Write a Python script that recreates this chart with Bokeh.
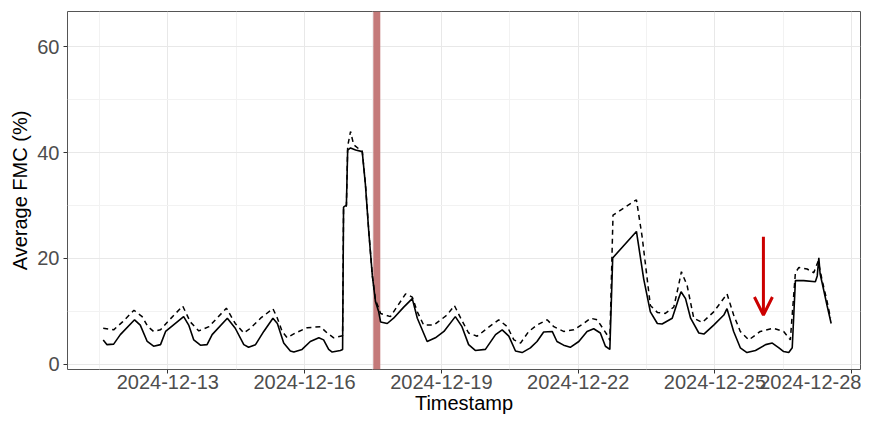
import pandas as pd
from bokeh.plotting import figure
from bokeh.models import (Range1d, FixedTicker, DatetimeTickFormatter, Span, Arrow,
                          OpenHead, ColumnDataSource)
from bokeh.embed import file_html
from bokeh.resources import INLINE

# ---------------- data ----------------
solid_time = [
    "2024-12-11 14:00", "2024-12-11 16:00", "2024-12-11 19:30", "2024-12-11 23:00", "2024-12-12 06:30",
    "2024-12-12 09:30", "2024-12-12 13:10", "2024-12-12 16:30", "2024-12-12 20:10", "2024-12-12 22:50",
    "2024-12-13 08:20", "2024-12-13 11:00", "2024-12-13 13:40", "2024-12-13 17:10", "2024-12-13 20:40",
    "2024-12-13 23:20", "2024-12-14 07:20", "2024-12-14 11:30", "2024-12-14 16:00", "2024-12-14 18:30",
    "2024-12-14 22:10", "2024-12-15 02:30", "2024-12-15 07:20", "2024-12-15 09:40", "2024-12-15 13:00",
    "2024-12-15 16:30", "2024-12-15 18:20", "2024-12-15 22:40", "2024-12-16 03:00", "2024-12-16 07:30",
    "2024-12-16 10:00", "2024-12-16 12:40", "2024-12-16 14:30", "2024-12-16 18:50", "2024-12-16 20:00",
    "2024-12-16 20:30", "2024-12-16 22:00", "2024-12-16 22:40", "2024-12-17 00:10", "2024-12-17 02:50",
    "2024-12-17 06:20", "2024-12-17 08:00", "2024-12-17 09:50", "2024-12-17 11:40", "2024-12-17 13:20",
    "2024-12-17 15:00", "2024-12-17 16:00", "2024-12-17 19:30", "2024-12-17 22:50", "2024-12-18 04:10",
    "2024-12-18 08:40", "2024-12-18 11:20", "2024-12-18 16:30", "2024-12-18 20:50", "2024-12-19 01:20",
    "2024-12-19 07:20", "2024-12-19 10:50", "2024-12-19 14:20", "2024-12-19 17:50", "2024-12-19 23:10",
    "2024-12-20 04:30", "2024-12-20 08:00", "2024-12-20 11:30", "2024-12-20 15:00", "2024-12-20 18:30",
    "2024-12-20 22:50", "2024-12-21 02:20", "2024-12-21 05:50", "2024-12-21 10:20", "2024-12-21 12:50",
    "2024-12-21 16:20", "2024-12-21 19:50", "2024-12-22 00:20", "2024-12-22 04:40", "2024-12-22 08:10",
    "2024-12-22 11:40", "2024-12-22 14:20", "2024-12-22 16:40", "2024-12-22 18:10", "2024-12-23 06:40",
    "2024-12-23 10:30", "2024-12-23 14:00", "2024-12-23 17:40", "2024-12-23 20:10", "2024-12-24 01:30",
    "2024-12-24 04:50", "2024-12-24 06:10", "2024-12-24 08:30", "2024-12-24 11:10", "2024-12-24 15:30",
    "2024-12-24 18:10", "2024-12-24 23:20", "2024-12-25 04:40", "2024-12-25 06:20", "2024-12-25 09:50",
    "2024-12-25 13:20", "2024-12-25 16:50", "2024-12-25 21:20", "2024-12-26 02:40", "2024-12-26 06:10",
    "2024-12-26 09:40", "2024-12-26 12:10", "2024-12-26 14:50", "2024-12-26 16:40", "2024-12-26 18:20",
    "2024-12-26 22:40", "2024-12-27 04:50", "2024-12-27 05:50", "2024-12-27 06:40", "2024-12-27 07:20",
    "2024-12-27 08:20", "2024-12-27 11:00", "2024-12-27 13:10",
]
solid_fmc = [
    4.6, 3.7, 3.8, 5.6, 8.4, 7.4, 4.3, 3.4, 3.7, 6.2,
    9.0, 7.4, 4.6, 3.6, 3.7, 5.6, 8.7, 6.8, 3.7, 3.2,
    3.7, 6.2, 8.7, 7.7, 4.0, 2.5, 2.3, 2.8, 4.3, 5.0,
    4.6, 2.8, 2.3, 2.6, 2.8, 29.7, 30.1, 40.5, 40.9, 40.5,
    40.2, 34.0, 24.8, 16.7, 11.8, 9.9, 8.0, 7.7, 8.7, 10.8,
    12.4, 8.7, 4.3, 5.0, 6.2, 9.0, 7.1, 3.7, 2.6, 2.8,
    5.6, 6.5, 5.3, 2.5, 2.2, 3.1, 4.3, 6.1, 6.2, 4.3,
    3.6, 3.2, 4.3, 6.2, 6.7, 5.9, 3.4, 2.8, 20.1, 25.1,
    16.1, 9.9, 7.7, 7.6, 8.7, 12.4, 13.7, 12.4, 8.7, 5.9,
    5.7, 7.4, 9.3, 10.5, 6.2, 3.1, 2.2, 2.6, 3.7, 4.0,
    3.1, 2.4, 2.2, 3.1, 15.8, 15.8, 15.6, 16.7, 20.1, 17.1,
    15.5, 11.1, 7.7,
]
dash_time = [
    "2024-12-11 14:00", "2024-12-11 19:30", "2024-12-12 00:10", "2024-12-12 06:10", "2024-12-12 10:30",
    "2024-12-12 13:20", "2024-12-12 16:30", "2024-12-12 20:10", "2024-12-12 23:50", "2024-12-13 07:50",
    "2024-12-13 11:50", "2024-12-13 16:20", "2024-12-13 21:40", "2024-12-14 06:50", "2024-12-14 11:30",
    "2024-12-14 16:00", "2024-12-14 19:30", "2024-12-15 00:50", "2024-12-15 07:20", "2024-12-15 09:40",
    "2024-12-15 12:10", "2024-12-15 14:50", "2024-12-15 19:10", "2024-12-16 01:20", "2024-12-16 08:20",
    "2024-12-16 11:50", "2024-12-16 15:20", "2024-12-16 20:00", "2024-12-16 20:30", "2024-12-16 22:00",
    "2024-12-16 22:40", "2024-12-17 00:10", "2024-12-17 01:50", "2024-12-17 05:20", "2024-12-17 06:20",
    "2024-12-17 08:00", "2024-12-17 09:50", "2024-12-17 11:40", "2024-12-17 13:20", "2024-12-17 15:00",
    "2024-12-17 16:00", "2024-12-17 21:10", "2024-12-18 05:10", "2024-12-18 08:40", "2024-12-18 11:20",
    "2024-12-18 14:40", "2024-12-18 20:00", "2024-12-19 03:00", "2024-12-19 06:50", "2024-12-19 10:10",
    "2024-12-19 14:20", "2024-12-19 18:50", "2024-12-20 00:10", "2024-12-20 06:10", "2024-12-20 10:40",
    "2024-12-20 14:10", "2024-12-20 17:40", "2024-12-20 22:00", "2024-12-21 02:20", "2024-12-21 07:40",
    "2024-12-21 11:10", "2024-12-21 16:20", "2024-12-21 21:40", "2024-12-22 02:50", "2024-12-22 06:30",
    "2024-12-22 10:00", "2024-12-22 13:30", "2024-12-22 15:40", "2024-12-22 16:40", "2024-12-22 18:20",
    "2024-12-23 06:40", "2024-12-23 09:40", "2024-12-23 14:00", "2024-12-23 17:40", "2024-12-23 21:50",
    "2024-12-24 02:20", "2024-12-24 04:50", "2024-12-24 06:20", "2024-12-24 09:20", "2024-12-24 12:50",
    "2024-12-24 17:20", "2024-12-24 23:20", "2024-12-25 06:20", "2024-12-25 09:50", "2024-12-25 13:20",
    "2024-12-25 17:50", "2024-12-25 23:50", "2024-12-26 06:50", "2024-12-26 12:10", "2024-12-26 15:40",
    "2024-12-26 18:20", "2024-12-26 20:10", "2024-12-27 00:30", "2024-12-27 04:00", "2024-12-27 06:20",
    "2024-12-27 08:20", "2024-12-27 11:00", "2024-12-27 12:50",
]
dash_fmc = [
    6.8, 6.5, 8.0, 10.2, 9.0, 7.2, 6.2, 6.5, 8.0, 11.0,
    8.0, 6.3, 7.1, 10.6, 7.7, 5.9, 6.8, 8.7, 10.5, 8.7,
    6.2, 5.0, 5.9, 6.9, 7.1, 5.9, 5.0, 5.4, 29.5, 29.9,
    41.2, 44.0, 41.5, 40.5, 40.3, 34.2, 24.9, 16.7, 12.1, 10.6,
    9.6, 9.0, 13.3, 12.7, 9.9, 7.4, 7.4, 9.3, 11.1, 8.7,
    5.9, 5.3, 6.8, 8.4, 7.1, 4.6, 4.0, 6.2, 7.4, 8.4,
    7.1, 6.2, 6.5, 7.7, 8.7, 8.4, 6.5, 5.3, 4.5, 28.2,
    31.1, 24.1, 11.1, 9.8, 9.6, 10.8, 14.9, 17.5, 14.9, 8.7,
    7.9, 9.9, 13.3, 9.3, 6.2, 4.6, 6.2, 6.8, 6.2, 4.6,
    17.3, 18.3, 18.0, 17.3, 19.5, 16.0, 11.9, 8.7,
]

x_major_ticks = ["2024-12-13", "2024-12-16", "2024-12-19", "2024-12-22", "2024-12-25", "2024-12-28"]
x_minor_ticks = ["2024-12-11 12:00", "2024-12-14 12:00", "2024-12-17 12:00",
                 "2024-12-20 12:00", "2024-12-23 12:00", "2024-12-26 12:00"]
y_major_ticks = [0, 20, 40, 60]
y_minor_ticks = [10, 30, 50]

event_time = "2024-12-17 14:00"          # red vertical band
arrow_time = "2024-12-26 01:30"          # red arrow
arrow_from, arrow_to = 24.1, 9.3

x_start, x_end = "2024-12-10 19:12", "2024-12-28 04:36"
y_start, y_end = -1.0, 66.7


def ms(s):
    return pd.Timestamp(s).value / 1e6


FONT = "Liberation Sans"

p = figure(width=861, height=416, x_axis_type="datetime", output_backend="svg",
           toolbar_location=None,
           x_range=Range1d(ms(x_start), ms(x_end)), y_range=Range1d(y_start, y_end),
           min_border_left=67, min_border_right=1, min_border_top=11, min_border_bottom=0)

p.background_fill_color = "white"
p.border_fill_color = "white"
p.outline_line_color = "#555555"
p.outline_line_width = 1

# grid
p.xgrid.grid_line_color = "#e8e8e8"
p.ygrid.grid_line_color = "#e8e8e8"
p.xgrid.minor_grid_line_color = "#f2f2f2"
p.ygrid.minor_grid_line_color = "#f2f2f2"

# axes
p.xaxis.ticker = FixedTicker(ticks=[ms(t) for t in x_major_ticks],
                             minor_ticks=[ms(t) for t in x_minor_ticks])
p.yaxis.ticker = FixedTicker(ticks=y_major_ticks, minor_ticks=y_minor_ticks)
fmt = "%Y-%m-%d"
p.xaxis.formatter = DatetimeTickFormatter(days=fmt, months=fmt, years=fmt, hours=fmt,
                                          hourmin=fmt, minutes=fmt, minsec=fmt,
                                          seconds=fmt, milliseconds=fmt, microseconds=fmt)
p.xaxis.axis_label = "Timestamp"
p.yaxis.axis_label = "Average FMC (%)"
for ax in (p.xaxis, p.yaxis):
    ax.axis_line_color = None
    ax.major_tick_in = 0
    ax.major_tick_out = 4
    ax.major_tick_line_color = "#333333"
    ax.minor_tick_line_color = None
    ax.major_label_text_font = FONT
    ax.major_label_text_font_size = "20px"
    ax.major_label_text_color = "#4d4d4d"
    ax.axis_label_text_font = FONT
    ax.axis_label_text_font_size = "20px"
    ax.axis_label_text_font_style = "normal"
    ax.axis_label_text_color = "black"
p.xaxis.major_label_standoff = 1
p.xaxis.axis_label_standoff = 0
p.yaxis.major_label_standoff = 4
p.yaxis.axis_label_standoff = 3

# red event band
band = Span(location=ms(event_time), dimension="height", line_color="#c47a7a",
            line_width=7, level="underlay")
p.add_layout(band)

# lines
src_s = ColumnDataSource(dict(t=pd.to_datetime(solid_time), v=solid_fmc))
src_d = ColumnDataSource(dict(t=pd.to_datetime(dash_time), v=dash_fmc))
p.line("t", "v", source=src_d, line_color="black", line_width=1.5, line_dash="5 4")
p.line("t", "v", source=src_s, line_color="black", line_width=1.6)

# red arrow
p.add_layout(Arrow(end=OpenHead(size=18, line_color="#cc0000", line_width=3),
                   x_start=ms(arrow_time), y_start=arrow_from,
                   x_end=ms(arrow_time), y_end=arrow_to,
                   line_color="#cc0000", line_width=3))

open("out.html", "w").write(file_html(p, INLINE))
